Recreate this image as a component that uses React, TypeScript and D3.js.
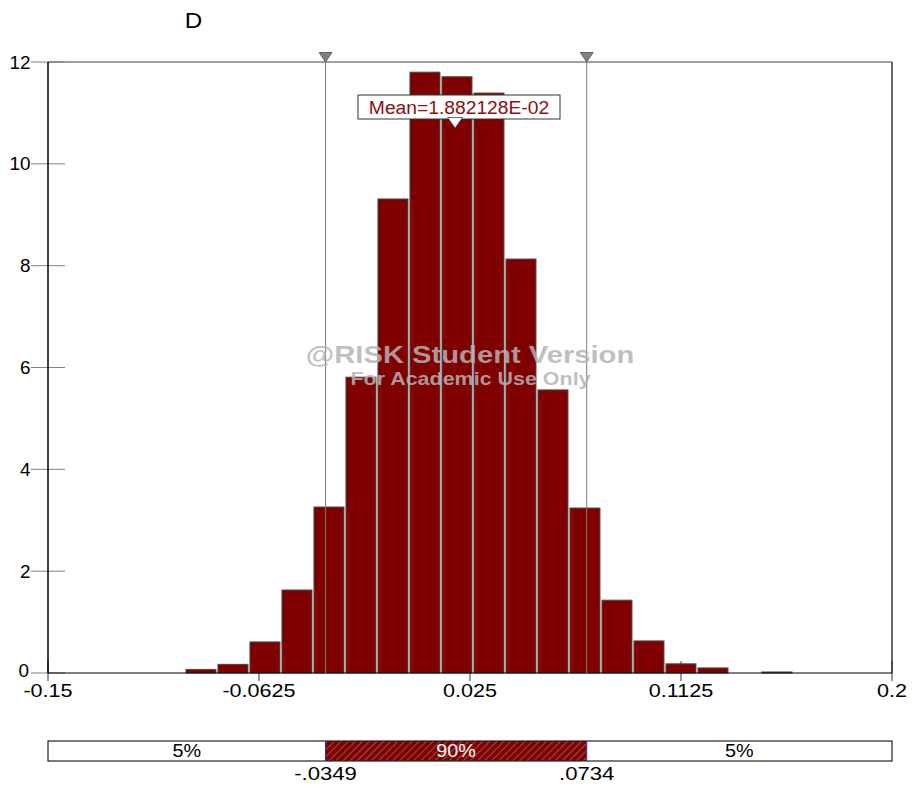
import React from "react";
import * as d3 from "d3";

// Histogram of simulated values for D
const binStart = -0.0932;
const binWidth = 0.01327;
const densities = [
  0.07, 0.17, 0.61, 1.63, 3.26, 5.81, 9.31, 11.8, 11.71, 11.39, 8.13, 5.56, 3.24,
  1.43, 0.63, 0.18, 0.1, 0, 0.02,
];
const xTicks = [-0.15, -0.0625, 0.025, 0.1125, 0.2];
const xTickLabels = ["-0.15", "-0.0625", "0.025", "0.1125", "0.2"];
const yTicks = [0, 2, 4, 6, 8, 10, 12];
const meanValue = 0.01882128;
const meanLabel = "Mean=1.882128E-02";
const lowerPct = -0.0349;
const upperPct = 0.0734;
const pctLabels = ["-.0349", ".0734"];
const bandLabels = ["5%", "90%", "5%"];
const title = "D";

const W = 913;
const H = 785;
const left = 48;
const right = 892;
const top = 62;
const bottom = 673;
const font = "'Liberation Sans', Arial, sans-serif";
const barColor = "#800000";

// Wide-set label text: glyphs are stretched horizontally by a fixed factor.
function Wide(props: {
  x: number;
  y: number;
  size: number;
  anchor?: "start" | "middle" | "end";
  stretch?: number;
  fill?: string;
  weight?: string;
  opacity?: number;
  children: React.ReactNode;
}) {
  const s = props.stretch ?? 1.2;
  return (
    <g transform={`translate(${props.x},${props.y}) scale(${s},1)`}>
      <text
        x={0}
        y={0}
        fontSize={props.size}
        textAnchor={props.anchor ?? "middle"}
        fill={props.fill ?? "#000"}
        fontWeight={props.weight}
        fillOpacity={props.opacity}
      >
        {props.children}
      </text>
    </g>
  );
}

export default function App() {
  const x = d3.scaleLinear().domain([-0.15, 0.2]).range([left, right]);
  const y = d3.scaleLinear().domain([0, 12]).range([bottom, top]);

  const bins = densities.map((v, i) => {
    const x0 = binStart + i * binWidth;
    return { x0, x1: x0 + binWidth, v };
  });

  const xm = x(meanValue);
  const xl = x(lowerPct);
  const xu = x(upperPct);
  const bandTop = 741;
  const bandH = 20;

  return (
    <svg
      width={W}
      height={H}
      style={{ position: "absolute", left: 0, top: 0, background: "#fff" }}
      fontFamily={font}
    >
      <defs>
        <pattern
          id="hatch"
          patternUnits="userSpaceOnUse"
          width={5}
          height={5}
          patternTransform="rotate(45)"
        >
          <rect width={5} height={5} fill={barColor} />
          <line x1={0} y1={0} x2={0} y2={5} stroke="#b08080" strokeWidth={1.2} />
        </pattern>
      </defs>

      <Wide x={193.5} y={28} size={22} stretch={1.1}>
        {title}
      </Wide>

      {/* frame */}
      <line x1={left} x2={right} y1={top} y2={top} stroke="#808080" strokeWidth={1.5} />
      <line x1={right} x2={right} y1={top} y2={bottom} stroke="#000" strokeWidth={1.2} />

      {/* y ticks */}
      {yTicks.map((t) => (
        <g key={"y" + t}>
          <line x1={31} x2={65} y1={y(t)} y2={y(t)} stroke="#808080" strokeWidth={1} />
          <Wide
            x={t === 0 ? 29 : 30.5}
            y={y(t) + (t === 0 ? 4 : 6.5)}
            size={18}
            anchor="end"
            stretch={1.05}
          >
            {t}
          </Wide>
        </g>
      ))}

      {/* x ticks */}
      {xTicks.map((t, i) => (
        <g key={"x" + i}>
          <line x1={x(t)} x2={x(t)} y1={661} y2={681} stroke="#333" strokeWidth={1} />
          <Wide x={x(t)} y={697} size={18}>
            {xTickLabels[i]}
          </Wide>
        </g>
      ))}

      {/* bars, with a hairline white gap between neighbours */}
      {bins.map((b, i) =>
        b.v > 0 ? (
          <rect
            key={"b" + i}
            x={x(b.x0) + 1}
            y={y(b.v)}
            width={x(b.x1) - x(b.x0) - 2}
            height={bottom - y(b.v)}
            fill={barColor}
            stroke="#4a4a4a"
            strokeWidth={1}
          />
        ) : null
      )}

      {/* axes */}
      <line x1={left} x2={left} y1={top} y2={bottom} stroke="#000" strokeWidth={1.5} />
      <line x1={left} x2={right} y1={bottom} y2={bottom} stroke="#000" strokeWidth={1.2} />

      {/* percentile markers */}
      {[xl, xu].map((px, i) => (
        <g key={"p" + i}>
          <line x1={px} x2={px} y1={56} y2={bottom} stroke="#7a7a7a" strokeWidth={1} />
          <path
            d={`M${px - 6.5},${52.5} L${px + 6.5},${52.5} L${px},${62} Z`}
            fill="#808080"
            stroke="#505050"
            strokeWidth={0.8}
          />
        </g>
      ))}

      {/* watermark */}
      <Wide x={470} y={363} size={23} stretch={1.27} fill="#b4b4b4" weight="bold" opacity={0.85}>
        @RISK Student Version
      </Wide>
      <Wide x={470.5} y={385} size={19} stretch={1.13} fill="#b4b4b4" weight="bold" opacity={0.85}>
        For Academic Use Only
      </Wide>

      {/* mean label */}
      <rect x={358} y={95} width={202} height={24} fill="#fff" stroke="#333" strokeWidth={1} />
      <Wide x={459} y={114} size={18} stretch={1.07} fill="#8b1010">
        {meanLabel}
      </Wide>
      <path
        d={`M${xm - 7.5},${117.5} L${xm + 7.5},${117.5} L${xm},${128} Z`}
        fill="#fff"
        stroke="#444"
        strokeWidth={0.8}
      />

      {/* percentile band */}
      <rect x={left} y={bandTop} width={xl - left} height={bandH} fill="#fff" />
      <rect x={xl} y={bandTop} width={xu - xl} height={bandH} fill="url(#hatch)" />
      <rect x={xu} y={bandTop} width={right - xu} height={bandH} fill="#fff" />
      <rect
        x={left}
        y={bandTop}
        width={right - left}
        height={bandH}
        fill="none"
        stroke="#222"
        strokeWidth={1.2}
      />
      <line x1={xl} x2={xl} y1={bandTop} y2={bandTop + bandH} stroke="#2a2a8a" strokeWidth={1} />
      <line x1={xu} x2={xu} y1={bandTop} y2={bandTop + bandH} stroke="#2a2a8a" strokeWidth={1} />
      <Wide x={(left + xl) / 2} y={bandTop + 16} size={18} stretch={1.1}>
        {bandLabels[0]}
      </Wide>
      <Wide x={(xl + xu) / 2} y={bandTop + 16} size={18} stretch={1.1} fill="#fff">
        {bandLabels[1]}
      </Wide>
      <Wide x={(xu + right) / 2} y={bandTop + 16} size={18} stretch={1.1}>
        {bandLabels[2]}
      </Wide>
      <Wide x={xl} y={780} size={18} stretch={1.23}>
        {pctLabels[0]}
      </Wide>
      <Wide x={xu} y={780} size={18} stretch={1.23}>
        {pctLabels[1]}
      </Wide>
    </svg>
  );
}
